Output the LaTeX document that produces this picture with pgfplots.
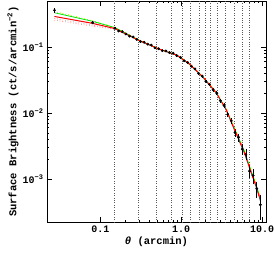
\documentclass[border=0pt]{standalone}
\usepackage{pgfplots}
\pgfplotsset{compat=1.18}
\usepackage{pgfplotstable}
\usepackage{fontspec}
\setmainfont{Liberation Mono}
\definecolor{mgreen}{RGB}{0,230,0}
\definecolor{ygreen}{RGB}{190,215,0}
\definecolor{mpink}{RGB}{255,130,130}
\pgfplotstableread{
x y ey
0.027 0.36 0.035
0.080 0.233 0.012
0.151 0.192 0.008
0.168 0.1746 0.007
0.186 0.1706 0.006
0.2065 0.1574 0.006
0.229 0.1459 0.005
0.254 0.1419 0.005
0.282 0.1303 0.004
0.3126 0.1205 0.004
0.3467 0.1178 0.004
0.3846 0.1102 0.003
0.4266 0.1067 0.003
0.4732 0.0973 0.003
0.5248 0.0942 0.003
0.5821 0.0883 0.003
0.6457 0.0871 0.003
0.7161 0.0820 0.003
0.7943 0.0804 0.003
0.8810 0.0741 0.003
0.9772 0.0695 0.003
1.084 0.0619 0.0025
1.202 0.0582 0.0025
1.334 0.0511 0.002
1.479 0.0465 0.002
1.641 0.0398 0.0018
1.820 0.0361 0.0018
2.018 0.0303 0.0016
2.239 0.0272 0.0016
2.483 0.0225 0.0014
2.754 0.0199 0.0013
3.055 0.01535 0.0011
3.388 0.01303 0.0010
3.758 0.00955 0.0009
4.169 0.0076 0.0008
4.624 0.0051 0.0007
5.129 0.00428 0.0006
5.689 0.00284 0.0005
6.310 0.00236 0.00045
6.998 0.00132 0.0003
7.762 0.00113 0.00028
8.610 0.000714 0.0002
9.55 0.000407 0.00017
}\datatable
\begin{document}
\begin{tikzpicture}
\begin{axis}[
  xmode=log, ymode=log,
  scale only axis, width=219pt, height=221pt,
  xmin=0.0218, xmax=11.2, ymin=2.23e-4, ymax=0.497,
  xtick={0.1,1,10}, xticklabels={0.1,1.0,10.0},
  ytick={1e-3,1e-2,1e-1},
  yticklabels={10\textsuperscript{−3},10\textsuperscript{−2},10\textsuperscript{−1}},
  tick align=inside, major tick length=5pt, minor tick length=2.5pt,
  tick style={black, line width=0.5pt},
  axis line style={line width=0.6pt},
  tick label style={font=\fontsize{10}{11}\selectfont\bfseries},
  label style={font=\fontsize{10.5}{11}\selectfont\bfseries},
  xlabel={\textit{θ} (arcmin)},
  ylabel={Surface Brightness (ct/s/arcmin\textsuperscript{−2})},
  ylabel style={yshift=-3pt},
  xlabel style={yshift=2pt},
  extra x ticks={0.148,0.296,0.494,0.76,1.04,1.31,1.69,1.99,2.29,2.76,3.5,4.57,5.69,7.0},
  extra x tick labels={},
  extra x tick style={grid=major, major grid style={black!65, dotted, line width=0.45pt}, major tick length=0pt},
]
% pink dotted models
\addplot[mpink, dotted, line width=0.7pt] coordinates {
(0.0269,0.27)(0.0794,0.215)(0.151,0.187)(0.302,0.125)(0.537,0.0923)(0.871,0.0757)(1.259,0.0552)(1.862,0.0348)(2.723,0.0200)(3.614,0.0111)(4.571,0.0055)(5.012,0.00427)(6.081,0.00245)(7.362,0.00123)(8.472,7.6e-4)(9.55,4.7e-4)};
\addplot[mpink, dotted, line width=0.7pt] coordinates {
(0.0269,0.255)(0.0794,0.207)(0.151,0.185)(0.302,0.125)(0.537,0.0923)(0.871,0.0757)(1.259,0.0552)(1.862,0.0348)(2.723,0.0200)(3.614,0.0111)(4.571,0.0055)(5.012,0.00427)(6.081,0.00245)(7.362,0.00123)(8.472,7.6e-4)(9.55,4.7e-4)};
% green models
\addplot[ygreen, dotted, line width=0.8pt] coordinates {
(0.0269,0.345)(0.0794,0.25)(0.151,0.197)(0.302,0.126)(0.537,0.0925)(0.871,0.0757)(1.259,0.0552)(1.862,0.0348)(2.723,0.0201)(3.614,0.0112)(4.571,0.0057)(5.012,0.00445)(6.081,0.00258)(7.362,0.00130)(8.472,8.0e-4)(9.55,5.0e-4)};
\addplot[mgreen, line width=0.8pt] coordinates {
(0.0269,0.33)(0.0794,0.245)(0.151,0.196)(0.302,0.126)(0.537,0.0925)(0.871,0.0757)(1.259,0.0552)(1.862,0.0348)(2.723,0.0201)(3.614,0.0112)(4.571,0.0057)(5.012,0.00445)(6.081,0.00258)(7.362,0.00130)(8.472,8.0e-4)(9.55,5.0e-4)};
% red model
\addplot[red, line width=1pt] coordinates {
(0.0269,0.29)(0.0794,0.228)(0.151,0.19)(0.302,0.125)(0.537,0.0923)(0.871,0.0757)(1.259,0.0552)(1.862,0.0348)(2.723,0.0200)(3.614,0.0111)(4.571,0.0055)(5.012,0.00427)(6.081,0.00245)(7.362,0.00123)(8.472,7.6e-4)(9.55,4.7e-4)};
% data
\addplot[only marks, mark=*, mark size=1.2pt, black,
  error bars/.cd, y dir=both, y explicit, error bar style={line width=0.6pt}, error mark=none]
  table[x=x, y=y, y error=ey] {\datatable};
\end{axis}
\pgfresetboundingbox
\path ([xshift=-47pt,yshift=-32pt]current axis.south west) rectangle ([xshift=8pt,yshift=1pt]current axis.north east);
\end{tikzpicture}
\end{document}
